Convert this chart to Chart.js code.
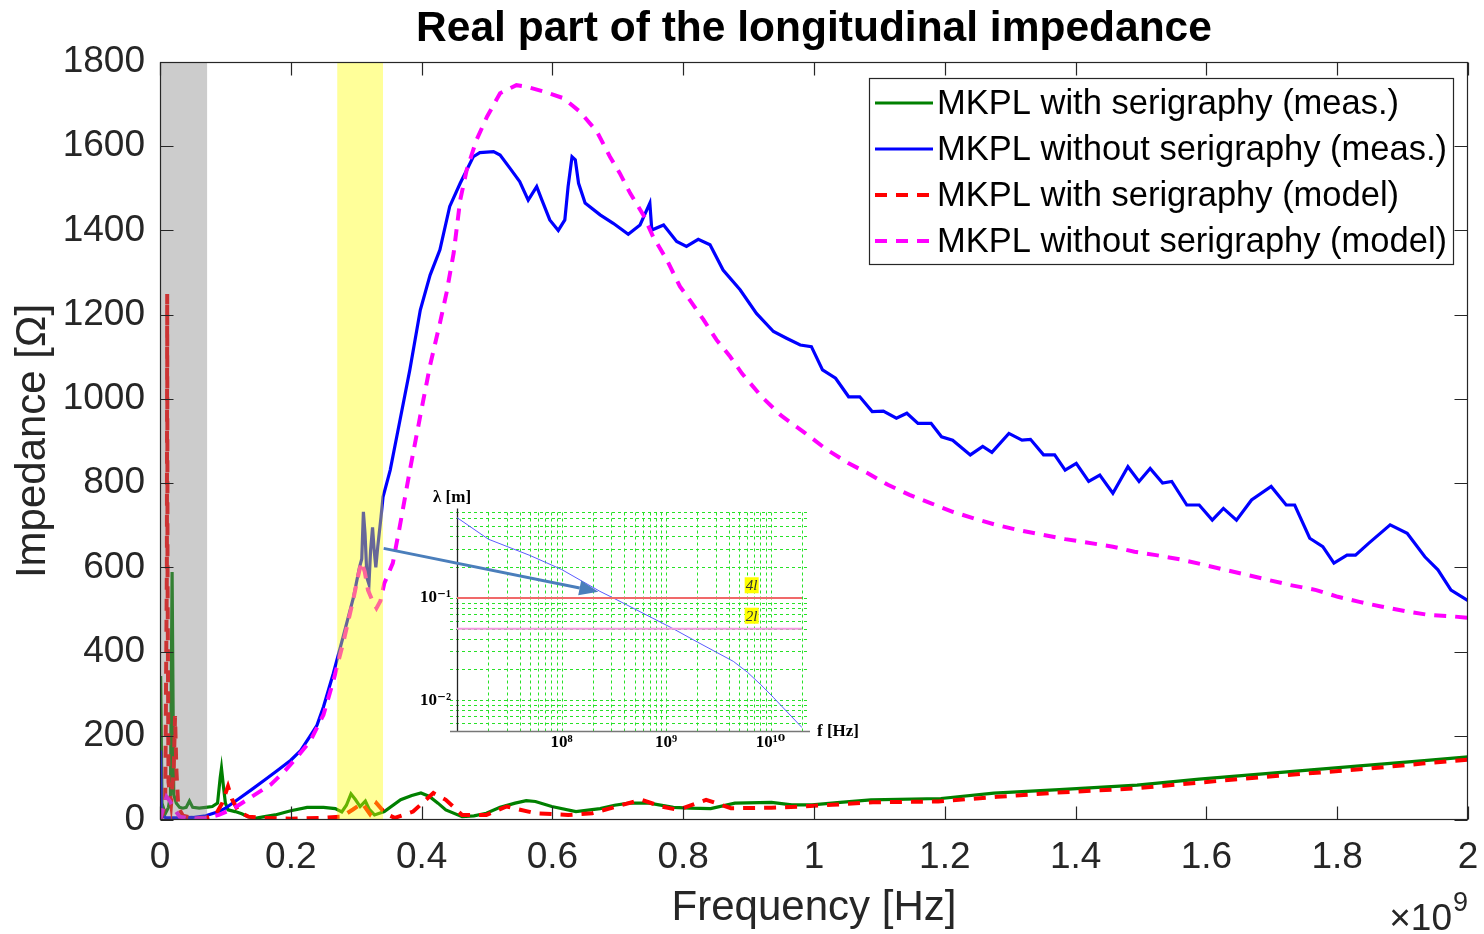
<!DOCTYPE html>
<html><head><meta charset="utf-8">
<script src="https://cdn.jsdelivr.net/npm/chart.js@4.4.1/dist/chart.umd.min.js"></script>
<style>
html,body{margin:0;padding:0;background:#fff;}
#wrap{position:relative;width:1484px;height:934px;overflow:hidden;}
#main{position:absolute;left:0;top:0;}
#inset{position:absolute;left:370px;top:480px;}
</style></head><body>
<div id="wrap"><canvas id="main" width="1484" height="934"></canvas><canvas id="inset" width="510" height="280"></canvas></div>
<script>
// ---------- main chart data (frequency in units of 1e9 Hz, impedance in Ohm) ----------
const greenF = [0,0.001,0.003,0.008,0.013,0.016,0.0185,0.021,0.025,0.03,0.035,0.04,0.045,0.05,0.06,0.07,0.08,0.088,0.092,0.094,0.097,0.1,0.104,0.115,0.125,0.135,0.145,0.16,0.176,0.19,0.2,0.225,0.25,0.268,0.278,0.285,0.292,0.299,0.306,0.314,0.32,0.328,0.343,0.368,0.385,0.399,0.412,0.425,0.437,0.462,0.48,0.499,0.52,0.543,0.56,0.574,0.599,0.636,0.673,0.695,0.717,0.748,0.785,0.81,0.842,0.879,0.935,0.966,0.997,1.04,1.087,1.194,1.275,1.375,1.494,1.589,1.714,1.839,1.933,2.0];
const greenZ = [0,342,40,15,30,60,589,60,40,30,28,30,45,30,28,30,32,40,100,123,80,40,24,20,15,8,4,8,12,18,22,30,30,27,19,35,62,48,32,45,25,12,20,48,58,64,56,40,24,8,10,16,30,40,46,44,32,20,27,35,40,40,30,28,27,40,42,36,36,42,48,51,64,72,83,97,113,129,141,150];

const blueF = [0,0.001,0.002,0.01,0.03,0.05,0.07,0.09,0.1,0.12,0.14,0.16,0.18,0.2,0.215,0.229,0.24,0.25,0.265,0.28,0.296,0.305,0.3085,0.311,0.3135,0.3165,0.3195,0.322,0.325,0.3275,0.33,0.333,0.338,0.341,0.352,0.367,0.382,0.398,0.413,0.428,0.443,0.459,0.479,0.489,0.51,0.52,0.535,0.55,0.563,0.576,0.584,0.596,0.609,0.619,0.624,0.63,0.635,0.64,0.65,0.673,0.693,0.716,0.734,0.749,0.752,0.77,0.79,0.805,0.823,0.841,0.861,0.887,0.912,0.938,0.958,0.979,0.996,1.013,1.033,1.053,1.07,1.089,1.106,1.126,1.142,1.159,1.179,1.195,1.212,1.239,1.258,1.272,1.298,1.318,1.331,1.351,1.368,1.384,1.401,1.42,1.437,1.457,1.48,1.497,1.514,1.533,1.547,1.57,1.589,1.609,1.626,1.646,1.669,1.699,1.722,1.735,1.758,1.778,1.795,1.815,1.828,1.848,1.881,1.907,1.934,1.954,1.974,2.0];
const blueZ = [0,165,10,5,5,6,10,20,28,50,72,95,118,142,165,198,225,269,348,435,530,600,620,732,680,575,560,640,695,640,600,650,720,767,831,950,1069,1211,1294,1354,1457,1512,1575,1585,1587,1579,1548,1516,1472,1504,1472,1425,1400,1425,1504,1575,1568,1512,1465,1437,1417,1391,1413,1465,1401,1413,1374,1362,1379,1366,1306,1259,1203,1160,1144,1128,1124,1069,1049,1005,1005,970,971,954,966,942,942,910,902,867,887,873,918,902,904,867,867,831,847,804,819,776,839,804,835,800,804,748,748,712,740,712,760,792,748,748,669,649,610,629,629,657,701,681,625,594,546,521];

const redF = [0,0.004,0.008,0.0105,0.011,0.0115,0.013,0.017,0.021,0.023,0.025,0.028,0.035,0.05,0.07,0.085,0.095,0.104,0.11,0.12,0.135,0.16,0.2,0.244,0.278,0.295,0.309,0.321,0.331,0.345,0.359,0.387,0.418,0.437,0.462,0.499,0.53,0.574,0.624,0.661,0.698,0.736,0.767,0.792,0.835,0.873,0.935,0.98,1.028,1.09,1.19,1.28,1.37,1.49,1.59,1.71,1.84,1.93,2.0];
const redZ = [0,15,40,600,1249,600,90,40,120,247,120,30,10,5,5,12,40,80,50,20,8,5,3,5,8,25,40,14,40,15,5,20,64,48,12,12,32,16,12,16,32,48,32,24,48,28,29,32,36,42,44,55,65,75,89,105,121,134,143];

const magF = [0,0.005,0.01,0.015,0.02,0.03,0.05,0.07,0.09,0.11,0.13,0.15,0.17,0.19,0.21,0.23,0.25,0.265,0.28,0.295,0.303,0.308,0.313,0.318,0.325,0.331,0.337,0.343,0.356,0.367,0.382,0.398,0.413,0.428,0.438,0.449,0.459,0.469,0.484,0.5,0.52,0.545,0.561,0.586,0.617,0.642,0.668,0.688,0.703,0.719,0.739,0.754,0.775,0.795,0.81,0.831,0.851,0.872,0.89,0.92,0.95,0.987,1.02,1.053,1.083,1.113,1.146,1.179,1.212,1.245,1.278,1.311,1.351,1.384,1.417,1.457,1.49,1.523,1.563,1.596,1.629,1.662,1.695,1.728,1.768,1.801,1.834,1.867,1.907,1.94,1.98,2.0];
const magZ = [0,30,55,45,30,8,3,5,12,25,45,65,85,115,150,188,250,330,420,520,580,613,590,546,520,503,520,562,610,700,830,960,1080,1180,1251,1346,1472,1544,1615,1670,1726,1745,1741,1730,1714,1682,1635,1575,1536,1488,1437,1385,1330,1267,1235,1188,1140,1100,1060,1005,960,918,879,847,823,796,772,752,732,716,701,689,677,667,659,649,637,629,618,606,594,582,570,558,546,530,518,507,495,487,483,480];

const seriesLabels = ['MKPL with serigraphy (meas.)','MKPL without serigraphy (meas.)','MKPL with serigraphy (model)','MKPL without serigraphy (model)'];
const xTickValues = [0,0.2,0.4,0.6,0.8,1,1.2,1.4,1.6,1.8,2];
const xTickLabels = ['0','0.2','0.4','0.6','0.8','1','1.2','1.4','1.6','1.8','2'];
const yTickValues = [0,200,400,600,800,1000,1200,1400,1600,1800];
const yTickLabels = ['0','200','400','600','800','1000','1200','1400','1600','1800'];
const grayBand = [0, 0.072];
const yellowBand = [0.271, 0.341];

// ---------- inset data ----------
const insetF = [1e7,2e7,5e7,1e8,2.33e8,3.12e8,1.13e9,2e9,4.4e9,6e9,8e9,1.06e10,2e10];
const insetLambda = [0.61,0.375,0.26,0.19,0.116,0.1,0.051,0.037,0.024,0.0188,0.0143,0.0107,0.0054];
const levelF = [1e7, 2e10];
const lambda4l = [0.1, 0.1];
const lambda2l = [0.05, 0.05];
const insetXTickValues = [1e8,1e9,1e10];
const insetXTickLabels = ['10⁸','10⁹','10¹⁰'];
const insetYTickValues = [0.01,0.1];
const insetYTickLabels = ['10⁻²','10⁻¹'];
const insetXGrid = [];
[1e7,1e8,1e9].forEach(d=>{for(let m=1;m<=9;m++){insetXGrid.push(m*d);}});
insetXGrid.push(1e10, 2e10);
const insetYGrid = [];
[0.001,0.01,0.1].forEach(d=>{for(let m=1;m<=9;m++){const v=m*d; if(v>=0.0055 && v<=0.71) insetYGrid.push(v);}});
const arrowFrom = [0.342, 645];     // main-chart data coords
const arrowTo = [2.25e8, 0.115];    // inset data coords

const SANS = "'Liberation Sans', Arial, Helvetica, sans-serif";
const SERIF = "'Liberation Serif', 'DejaVu Serif', 'Times New Roman', serif";
const AX = '#262626';

function pts(xs, ys){ return xs.map((x,i)=>({x:x, y:ys[i]})); }

const mainDeco = {
  id:'mainDeco',
  afterDatasetsDraw(chart){
    const {ctx, chartArea:a, scales:{x,y}} = chart;
    ctx.save();
    [[grayBand,'rgba(128,128,128,0.4)'],[yellowBand,'rgba(255,255,0,0.4)']].forEach(([b,c])=>{
      const x0=x.getPixelForValue(b[0]), x1=x.getPixelForValue(b[1]);
      ctx.fillStyle=c; ctx.fillRect(x0,a.top,x1-x0,a.bottom-a.top);
    });
    ctx.strokeStyle=AX; ctx.lineWidth=1.2;
    const L=Math.round(a.left)+0.5, R=Math.round(a.right)-0.5, T=Math.round(a.top)+0.5, B=Math.round(a.bottom)-0.5;
    ctx.strokeRect(L,T,R-L,B-T);
    const tl=13;
    ctx.beginPath();
    xTickValues.forEach(v=>{const px=Math.round(x.getPixelForValue(v))+0.5;
      ctx.moveTo(px,B); ctx.lineTo(px,B-tl); ctx.moveTo(px,T); ctx.lineTo(px,T+tl);});
    yTickValues.forEach(v=>{const py=Math.round(y.getPixelForValue(v))+0.5;
      ctx.moveTo(L,py); ctx.lineTo(L+tl,py); ctx.moveTo(R,py); ctx.lineTo(R-tl,py);});
    ctx.stroke();
    ctx.restore();
  },
  afterDraw(chart){
    const {ctx, chartArea:a} = chart;
    ctx.save();
    // legend
    ctx.font = '34.5px ' + SANS;
    const ds = chart.data.datasets;
    const maxW = Math.max(...ds.map(d=>ctx.measureText(d.label).width));
    const sampleW=58, gap=4, padL=6, padR=6, rowH=46;
    const w = Math.round(padL+sampleW+gap+maxW+padR), h = rowH*ds.length+2;
    const bx = Math.round(a.right-15-w), by = Math.round(a.top+16);
    ctx.fillStyle='#fff'; ctx.fillRect(bx,by,w,h);
    ctx.strokeStyle=AX; ctx.lineWidth=1.2; ctx.strokeRect(bx+0.5,by+0.5,w,h);
    ds.forEach((d,i)=>{
      const cy = by+25+i*rowH;
      ctx.strokeStyle=d.borderColor; ctx.lineWidth=d.borderWidth; ctx.setLineDash(d.borderDash||[]);
      ctx.beginPath(); ctx.moveTo(bx+padL,cy); ctx.lineTo(bx+padL+sampleW,cy); ctx.stroke();
      ctx.setLineDash([]);
      ctx.fillStyle='#000'; ctx.textBaseline='middle'; ctx.textAlign='left';
      ctx.fillText(d.label, bx+padL+sampleW+gap, cy+1);
    });
    // x10^9 exponent
    ctx.fillStyle=AX; ctx.textBaseline='alphabetic'; ctx.textAlign='left';
    ctx.font='37px '+SANS;
    const w1 = ctx.measureText('\u00d710').width;
    ctx.font='27px '+SANS;
    const w2 = ctx.measureText('9').width;
    const ex = a.right - w1 - w2 - 1;
    ctx.font='37px '+SANS;
    ctx.fillText('\u00d710', ex, 930);
    ctx.font='27px '+SANS;
    ctx.fillText('9', ex+w1+1, 911);
    ctx.restore();
  }
};

const mainChart = new Chart(document.getElementById('main'), {
  type:'line',
  data:{datasets:[
    {label:seriesLabels[0], data:pts(greenF,greenZ), borderColor:'#008000', borderWidth:3.2, order:4},
    {label:seriesLabels[1], data:pts(blueF,blueZ), borderColor:'#0000ff', borderWidth:3.2, order:3},
    {label:seriesLabels[2], data:pts(redF,redZ), borderColor:'#ff0000', borderWidth:4, borderDash:[12,9], order:2},
    {label:seriesLabels[3], data:pts(magF,magZ), borderColor:'#ff00ff', borderWidth:4, borderDash:[12,9], order:1}
  ]},
  options:{
    responsive:false, animation:false, devicePixelRatio:1,
    elements:{point:{radius:0}, line:{tension:0, fill:false}},
    layout:{padding:{left:0,right:16,top:0,bottom:0}},
    plugins:{
      legend:{display:false}, tooltip:{enabled:false},
      title:{display:true, text:'Real part of the longitudinal impedance', fullSize:false, color:'#000',
        font:{family:SANS, size:42.5, weight:'bold', lineHeight:1.2}, padding:{top:4,bottom:7}}
    },
    scales:{
      x:{type:'linear', min:0, max:2,
        afterBuildTicks:s=>{s.ticks=xTickValues.map(v=>({value:v}));},
        afterFit:s=>{s.height=114; s.paddingLeft=0; s.paddingRight=0;},
        grid:{display:false, drawTicks:false}, border:{display:false},
        ticks:{autoSkip:false, maxRotation:0, padding:16, color:AX, font:{family:SANS,size:37}, callback:(v,i)=>xTickLabels[i]},
        title:{display:true, text:'Frequency [Hz]', color:AX, font:{family:SANS,size:42,lineHeight:1.2}, padding:{top:0,bottom:0}}
      },
      y:{type:'linear', min:0, max:1800,
        afterBuildTicks:s=>{s.ticks=yTickValues.map(v=>({value:v}));},
        afterFit:s=>{s.width=160; s.paddingTop=0; s.paddingBottom=0;},
        grid:{display:false, drawTicks:false}, border:{display:false},
        ticks:{autoSkip:false, padding:15, color:AX, font:{family:SANS,size:37}, callback:(v,i)=>yTickLabels[i]},
        title:{display:true, text:'Impedance [\u03a9]', color:AX, font:{family:SANS,size:42,lineHeight:1.2}, padding:{top:8,bottom:0}}
      }
    }
  },
  plugins:[mainDeco]
});

const insetCanvas = document.getElementById('inset');
const insetDeco = {
  id:'insetDeco',
  beforeDatasetsDraw(chart){
    const {ctx, chartArea:a, scales:{x,y}} = chart;
    ctx.save();
    ctx.strokeStyle='rgb(40,225,40)'; ctx.lineWidth=1; ctx.setLineDash([3,3]);
    insetXGrid.forEach(v=>{const px=Math.round(x.getPixelForValue(v))+0.5;
      ctx.beginPath(); ctx.moveTo(px,a.top+1); ctx.lineTo(px,a.bottom+3); ctx.stroke();});
    insetYGrid.forEach(v=>{const py=Math.round(y.getPixelForValue(v))+0.5;
      ctx.beginPath(); ctx.moveTo(a.left-7,py); ctx.lineTo(a.right+8,py); ctx.stroke();});
    ctx.setLineDash([]);
    ctx.lineWidth=1.3;
    ctx.strokeStyle='#222';
    ctx.beginPath(); ctx.moveTo(Math.round(a.left)+0.5, a.top-3); ctx.lineTo(Math.round(a.left)+0.5, a.bottom); ctx.stroke();
    ctx.strokeStyle='#777';
    ctx.beginPath(); ctx.moveTo(a.left-7, Math.round(a.bottom)+0.5); ctx.lineTo(a.right+8, Math.round(a.bottom)+0.5); ctx.stroke();
    ctx.restore();
  },
  afterDatasetsDraw(chart){
    const {ctx, chartArea:a, scales:{x,y}} = chart;
    ctx.save();
    // 4l / 2l labels
    ctx.font='italic 15px '+SERIF; ctx.textAlign='center'; ctx.textBaseline='middle';
    [['4l',0.133],['2l',0.067]].forEach(([t,v])=>{
      const px=x.getPixelForValue(6.6e9), py=y.getPixelForValue(v);
      ctx.fillStyle='#ffff00'; ctx.fillRect(px-7,py-8,14,16);
      ctx.fillStyle='#333'; ctx.fillText(t,px,py+1);
    });
    // axis labels
    ctx.fillStyle='#000'; ctx.font='bold 17px '+SERIF; ctx.textBaseline='middle';
    ctx.textAlign='left'; ctx.fillText('\u03bb [m]', a.left-24, a.top-14);
    ctx.fillText('f [Hz]', a.right+15, a.bottom+1);
    // arrow from the main chart spike to the crossing point
    const sx = mainChart.scales.x.getPixelForValue(arrowFrom[0]) - insetCanvas.offsetLeft;
    const sy = mainChart.scales.y.getPixelForValue(arrowFrom[1]) - insetCanvas.offsetTop;
    const ex = x.getPixelForValue(arrowTo[0]), ey = y.getPixelForValue(arrowTo[1]);
    const ang = Math.atan2(ey-sy, ex-sx), hl=19, hw=7.5;
    const bxp = ex - hl*Math.cos(ang), byp = ey - hl*Math.sin(ang);
    ctx.strokeStyle='rgb(74,126,187)'; ctx.fillStyle='rgb(74,126,187)'; ctx.lineWidth=3;
    ctx.beginPath(); ctx.moveTo(sx,sy); ctx.lineTo(bxp,byp); ctx.stroke();
    ctx.beginPath(); ctx.moveTo(ex,ey);
    ctx.lineTo(bxp + hw*Math.sin(ang), byp - hw*Math.cos(ang));
    ctx.lineTo(bxp - hw*Math.sin(ang), byp + hw*Math.cos(ang));
    ctx.closePath(); ctx.fill();
    ctx.restore();
  }
};

const insetChart = new Chart(insetCanvas, {
  type:'line',
  data:{datasets:[
    {label:'4l', data:pts(levelF,lambda4l), borderColor:'rgb(240,105,105)', borderWidth:2},
    {label:'2l', data:pts(levelF,lambda2l), borderColor:'rgb(245,150,225)', borderWidth:2},
    {label:'lambda', data:pts(insetF,insetLambda), borderColor:'rgb(90,90,255)', borderWidth:1}
  ]},
  options:{
    responsive:false, animation:false, devicePixelRatio:1,
    elements:{point:{radius:0}, line:{tension:0, fill:false}},
    layout:{padding:{left:0,right:78,top:31.5,bottom:0}},
    plugins:{legend:{display:false}, tooltip:{enabled:false}, title:{display:false}},
    scales:{
      x:{type:'logarithmic', min:1e7, max:2e10,
        afterBuildTicks:s=>{s.ticks=insetXTickValues.map(v=>({value:v}));},
        afterFit:s=>{s.height=29; s.paddingLeft=0; s.paddingRight=0;},
        grid:{display:false, drawTicks:false}, border:{display:false},
        ticks:{autoSkip:false, maxRotation:0, padding:1, color:'#000', font:{family:SERIF,size:17,weight:'bold'}, callback:(v,i)=>insetXTickLabels[i]}
      },
      y:{type:'logarithmic', min:0.005, max:0.7,
        afterBuildTicks:s=>{s.ticks=insetYTickValues.map(v=>({value:v}));},
        afterFit:s=>{s.width=87; s.paddingTop=0; s.paddingBottom=0;},
        grid:{display:false, drawTicks:false}, border:{display:false},
        ticks:{autoSkip:false, padding:6, color:'#000', font:{family:SERIF,size:17,weight:'bold'}, callback:(v,i)=>insetYTickLabels[i]}
      }
    }
  },
  plugins:[insetDeco]
});
</script></body></html>
